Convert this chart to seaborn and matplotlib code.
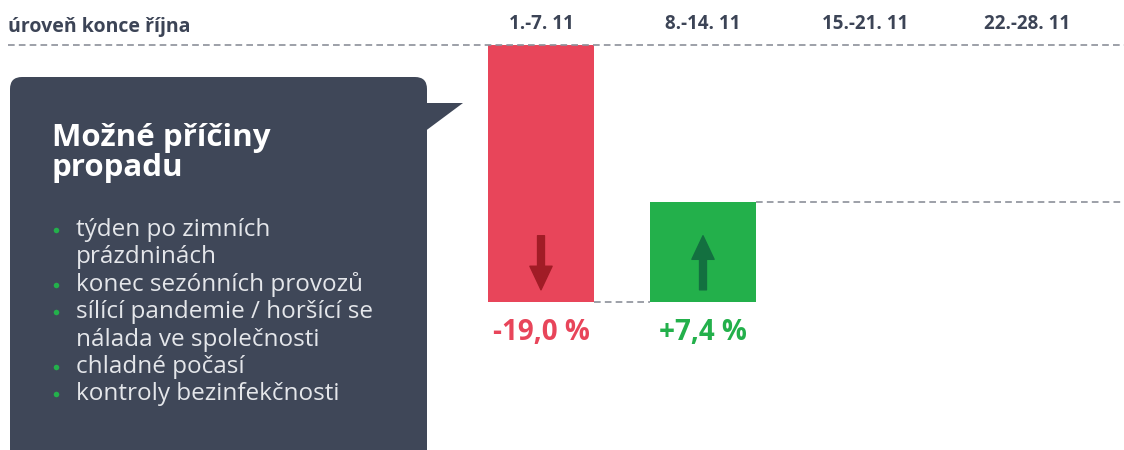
import matplotlib
matplotlib.use("Agg")
import matplotlib.pyplot as plt
import seaborn as sns
import numpy as np
import pandas as pd
from matplotlib.patches import FancyBboxPatch, Polygon

# ---------------- data ----------------
weeks = ["1.-7. 11", "8.-14. 11", "15.-21. 11", "22.-28. 11"]
changes = [-19.0, 7.4]
change_labels = ["-19,0 %", "+7,4 %"]
base_level = 100.0
baseline_label = "úroveň konce října"
box_title = ["Možné příčiny", "propadu"]
reasons = [
    ["týden po zimních", "prázdninách"],
    ["konec sezónních provozů"],
    ["sílící pandemie / horšící se", "nálada ve společnosti"],
    ["chladné počasí"],
    ["kontroly bezinfekčnosti"],
]

# ---------------- style ----------------
RED, GREEN = "#e8455a", "#23b04b"
RED_DARK, GREEN_DARK = "#a11c26", "#137040"
DARK = "#3c4456"
BOX = "#3f4758"
DASH = "#8c909a"
W, H = 1124, 450

sns.set_style("white")
plt.rcParams["font.family"] = ["Open Sans", "DejaVu Sans"]

fig = plt.figure(figsize=(W / 100, H / 100), dpi=100)
ax = fig.add_axes([0, 0, 1, 405 / 450])
ax.patch.set_visible(False)

bar_w = 0.654
bottoms = base_level + np.concatenate([[0.0], np.cumsum(changes)[:-1]])
levels = base_level + np.cumsum(changes)
colors = [RED if c < 0 else GREEN for c in changes]
arrow_colors = [RED_DARK if c < 0 else GREEN_DARK for c in changes]

for i, (wk, ch) in enumerate(zip(weeks, changes)):
    df = pd.DataFrame({"week": [wk], "change": [ch]})
    sns.barplot(data=df, x="week", y="change", order=weeks, bottom=bottoms[i],
                color=colors[i], saturation=1, width=bar_w, errorbar=None,
                linewidth=0, ax=ax)

px_per_unit = 257 / 19.0
ax.set_xlim(-541 / 162, (W - 541) / 162)
ax.set_ylim(base_level - 405 / px_per_unit, base_level)

ax.set_xticks(range(len(weeks)))
ax.set_xticklabels(weeks)
ax.xaxis.tick_top()
ax.tick_params(axis="x", length=0, pad=8, labelsize=13.5, labelcolor=DARK)
for lab in ax.get_xticklabels():
    lab.set_fontweight("bold")
ax.set_yticks([])
ax.set_xlabel("")
ax.set_ylabel("")
for s in ax.spines.values():
    s.set_visible(False)

dash = (0, (4, 2.5))
ax.axhline(base_level, xmin=8 / W, xmax=1, color=DASH, ls=dash, lw=1.2, clip_on=False)
xmax = ax.get_xlim()[1]
for i, lev in enumerate(levels):
    x0 = i + bar_w / 2
    x1 = (i + 1 - bar_w / 2) if i + 1 < len(levels) else xmax
    ax.hlines(lev, x0, x1, color=DASH, ls=dash, lw=1.2)

for i, ch in enumerate(changes):
    low = min(bottoms[i], levels[i])
    if ch < 0:
        tip, tail = low + 0.9, low + 4.9
    else:
        tip, tail = low + 4.9, low + 0.9
    ax.annotate("", xy=(i, tip), xytext=(i, tail),
                arrowprops=dict(width=5, headwidth=16, headlength=17,
                                color=arrow_colors[i], shrink=0))
    ax.annotate(change_labels[i], xy=(i, low), xytext=(0, -11.5),
                textcoords="offset points", ha="center", va="top",
                fontsize=20, fontweight="bold", color=colors[i])

fig.text(8 / W, 1 - 32 / H, baseline_label, fontsize=14, fontweight="bold",
         color=DARK, va="baseline", ha="left")

# ---------------- callout box ----------------
ov = fig.add_axes([0, 0, 1, 1], zorder=5)
ov.set_xlim(0, W)
ov.set_ylim(H, 0)
ov.axis("off")
ov.add_patch(FancyBboxPatch((10, 77), 417, 430,
                            boxstyle="round,pad=0,rounding_size=12",
                            fc=BOX, ec="none"))
ov.add_patch(Polygon([(420, 103), (463, 103), (420, 135)], closed=True,
                     fc=BOX, ec="none"))
ov.text(52, 146, box_title[0], fontsize=22.5, fontweight="bold", color="white",
        va="baseline", ha="left")
ov.text(52, 176, box_title[1], fontsize=22.5, fontweight="bold", color="white",
        va="baseline", ha="left")

y = 236
for item in reasons:
    for j, line in enumerate(item):
        if j == 0:
            ov.plot([56], [y - 6], marker="o", ms=4, color=GREEN, mec="none")
        ov.text(76, y, line, fontsize=17.5, color="#e4e6ea", va="baseline", ha="left")
        y += 27.4

fig.savefig("out.png", dpi=100)
